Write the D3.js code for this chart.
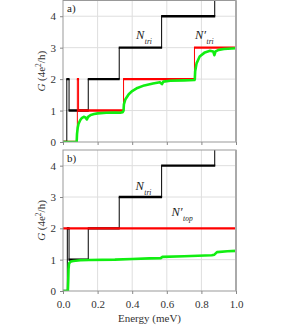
<!DOCTYPE html>
<html>
<head>
<meta charset="utf-8">
<script src="https://cdn.jsdelivr.net/npm/d3@7"></script>
<style>
  body { margin: 0; background: #fff; }
  svg text { font-family: "Liberation Serif", "Times New Roman", serif; }
</style>
</head>
<body>
<div id="chart"></div>
<script>
// step curves: energy where level changes, and the level from there on
const blackE_a = [0, 0.022, 0.035, 0.146, 0.325, 0.57, 0.877];
const blackG_a = [0, 2, 1, 2, 3, 4, 5];
const redE_a = [0, 0.083, 0.09, 0.35, 0.76];
const redG_a = [0, 2, 1, 2, 3];

const blackE_b = [0, 0.025, 0.035, 0.146, 0.325, 0.57, 0.877];
const blackG_b = [0, 2, 1, 2, 3, 4, 5];
const redE_b = [0];
const redG_b = [2];

// conductance curves (energy, G)
const greenE_a = [0, 0.079, 0.081, 0.085, 0.09, 0.1, 0.11, 0.12, 0.13, 0.138, 0.145, 0.16, 0.18, 0.2, 0.25, 0.3, 0.33, 0.345,
  0.35, 0.352, 0.36, 0.38, 0.4, 0.43, 0.47, 0.52, 0.56, 0.572, 0.58, 0.62, 0.7, 0.76,
  0.762, 0.764, 0.772, 0.79, 0.82, 0.85, 0.868, 0.875, 0.882, 0.9, 0.93, 1.0];
const greenG_a = [0, 0, 0.25, 0.45, 0.58, 0.7, 0.77, 0.8, 0.78, 0.72, 0.8, 0.86, 0.89, 0.91, 0.93, 0.94, 0.93, 0.95,
  1.0, 1.2, 1.35, 1.52, 1.62, 1.72, 1.8, 1.86, 1.9, 1.84, 1.92, 1.95, 1.96, 1.97,
  2.0, 2.25, 2.5, 2.72, 2.85, 2.9, 2.88, 2.76, 2.88, 2.93, 2.96, 2.98];

const greenE_b = [0, 0.028, 0.03, 0.032, 0.035, 0.045, 0.06, 0.1, 0.15, 0.3, 0.4, 0.5, 0.565, 0.575, 0.7, 0.86, 0.875, 0.89, 0.95, 1.0];
const greenG_b = [0, 0, 0.3, 0.7, 0.88, 0.94, 0.96, 0.98, 0.99, 1.0, 1.02, 1.04, 1.05, 1.09, 1.11, 1.14, 1.16, 1.24, 1.27, 1.28];

const xTicks = [0, 0.2, 0.4, 0.6, 0.8, 1.0];
const yTicks = [0, 1, 2, 3, 4];

const width = 299, height = 326;
const left = 63, right = 236;
const serif = '"Liberation Serif", "Times New Roman", serif';

const svg = d3.select('#chart').append('svg')
  .attr('width', width)
  .attr('height', height)
  .attr('font-family', serif);

const x = d3.scaleLinear().domain([0, 1]).range([left, right]);

function stepSegments(E, G) {
  let h = [], v = [];
  for (let i = 0; i < E.length; i++) {
    let e1 = i < E.length - 1 ? E[i + 1] : 1;
    h.push([E[i], e1, G[i]]);
    if (i > 0) v.push([E[i], G[i - 1], G[i]]);
  }
  return {h, v};
}

function panel(id, top, bottom, label, curves, showXLabels, texts) {
  let y = d3.scaleLinear().domain([0, 4.5]).range([bottom, top]);
  let g = svg.append('g');

  g.append('clipPath').attr('id', 'clip' + id)
    .append('rect')
    .attr('x', left).attr('y', top)
    .attr('width', right - left).attr('height', bottom - top);

  // grid
  g.selectAll('.gx').data(xTicks.slice(1, -1)).enter().append('line')
    .attr('x1', d => x(d)).attr('x2', d => x(d))
    .attr('y1', top).attr('y2', bottom)
    .style('stroke', '#dedede');
  g.selectAll('.gy').data(yTicks.slice(1)).enter().append('line')
    .attr('x1', left).attr('x2', right)
    .attr('y1', d => y(d)).attr('y2', d => y(d))
    .style('stroke', '#dedede');

  let plot = g.append('g').attr('clip-path', `url(#clip${id})`);

  curves.steps.forEach(s => {
    let seg = stepSegments(s.E, s.G);
    plot.selectAll(null).data(seg.v).enter().append('line')
      .attr('x1', d => x(d[0])).attr('x2', d => x(d[0]))
      .attr('y1', d => y(d[1])).attr('y2', d => y(d[2]))
      .style('stroke', s.color).style('stroke-width', 1);
    plot.selectAll(null).data(seg.h).enter().append('line')
      .attr('x1', d => x(d[0]) - (d[0] > 0 ? 0.5 : 0)).attr('x2', d => x(d[1]) + 0.5)
      .attr('y1', d => y(d[2])).attr('y2', d => y(d[2]))
      .style('stroke', s.color).style('stroke-width', 2.4);
  });

  let line = d3.line().x(d => x(d[0])).y(d => y(d[1]));
  plot.append('path')
    .datum(d3.zip(curves.greenE, curves.greenG))
    .attr('d', line)
    .style('fill', 'none')
    .style('stroke', '#11ee11')
    .style('stroke-width', 2.6)
    .style('stroke-linejoin', 'round');

  // frame
  g.append('rect')
    .attr('x', left).attr('y', top)
    .attr('width', right - left).attr('height', bottom - top)
    .style('fill', 'none').style('stroke', '#999').style('stroke-width', 1);
  g.append('line')
    .attr('x1', right).attr('x2', right).attr('y1', top).attr('y2', bottom)
    .style('stroke', '#aaa').style('stroke-width', 2);

  let yAxis = d3.axisLeft(y).tickValues(yTicks).tickSizeInner(3).tickSizeOuter(0).tickPadding(4)
    .tickFormat(d3.format('d'));
  let ya = g.append('g').attr('transform', `translate(${left},0)`).call(yAxis);
  let xAxis = d3.axisBottom(x).tickValues(xTicks).tickSizeInner(3).tickSizeOuter(0).tickPadding(6)
    .tickFormat(showXLabels ? d3.format('.1f') : '');
  let xa = g.append('g').attr('transform', `translate(0,${bottom})`).call(xAxis);
  [ya, xa].forEach(a => {
    a.attr('font-family', serif).attr('font-size', 11);
    a.select('.domain').remove();
    a.selectAll('line').style('stroke', '#888');
    a.selectAll('text').style('fill', '#333');
  });

  g.append('text')
    .attr('x', left + 4).attr('y', top + 11.5)
    .attr('font-size', 11)
    .style('fill', '#222')
    .text(label);

  let yl = g.append('text')
    .attr('transform', `translate(45,${(top + bottom) / 2}) rotate(-90)`)
    .style('text-anchor', 'middle')
    .style('fill', '#333')
    .attr('font-size', 11);
  yl.append('tspan').style('font-style', 'italic').text('G');
  yl.append('tspan').text('\u00a0(4e');
  yl.append('tspan').attr('dy', -4).attr('font-size', 7.5).text('2');
  yl.append('tspan').attr('dy', 4).text('/h)');

  texts.forEach(t => {
    let tx = g.append('text').attr('x', t.x).attr('y', t.y).style('font-style', 'italic').style('fill', '#222');
    tx.append('tspan').attr('font-size', 12.5).text(t.prime ? 'N\u2032' : 'N');
    tx.append('tspan').attr('dy', 5).attr('dx', 0.5).attr('font-size', 7.5).text(t.sub);
  });
}

panel('a', 0.5, 142, 'a)',
  {steps: [{E: blackE_a, G: blackG_a, color: '#000'}, {E: redE_a, G: redG_a, color: '#f00'}],
   greenE: greenE_a, greenG: greenG_a},
  false,
  [{x: 136, y: 39, sub: 'tri', prime: false}, {x: 195, y: 38.5, sub: 'tri', prime: true}]);

panel('b', 150, 291, 'b)',
  {steps: [{E: blackE_b, G: blackG_b, color: '#000'}, {E: redE_b, G: redG_b, color: '#f00'}],
   greenE: greenE_b, greenG: greenG_b},
  true,
  [{x: 135.5, y: 189.5, sub: 'tri', prime: false}, {x: 171.5, y: 216, sub: 'top', prime: true}]);

svg.append('text')
  .attr('x', (left + right) / 2).attr('y', 322)
  .style('text-anchor', 'middle')
  .style('fill', '#333')
  .attr('font-size', 11)
  .text('Energy (meV)');
</script>
</body>
</html>
